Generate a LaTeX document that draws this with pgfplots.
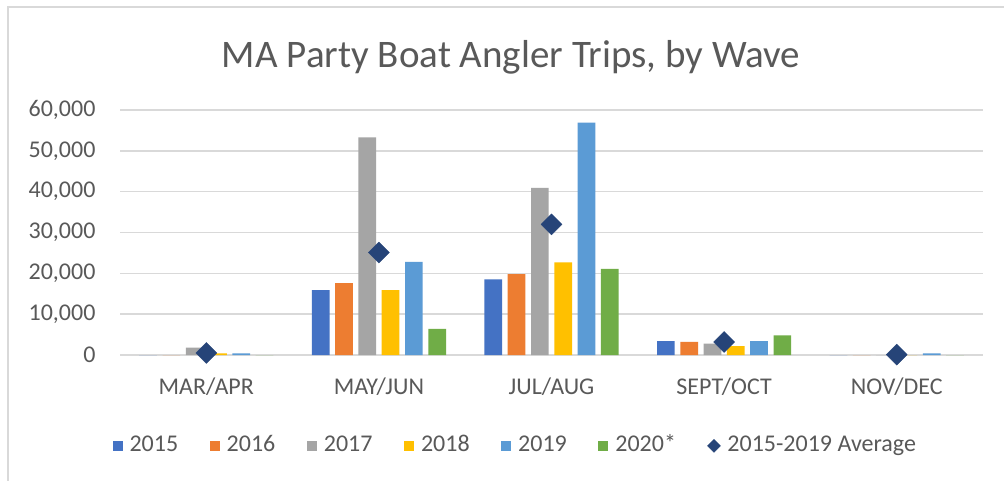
\documentclass[border=0pt]{standalone}
\usepackage{fontspec}
\setmainfont{Carlito}
\usepackage{pgfplots}
\pgfplotsset{compat=1.18}
\definecolor{c15}{HTML}{4472C4}
\definecolor{c16}{HTML}{ED7D31}
\definecolor{c17}{HTML}{A5A5A5}
\definecolor{c18}{HTML}{FFC000}
\definecolor{c19}{HTML}{5B9BD5}
\definecolor{c20}{HTML}{70AD47}
\definecolor{avgc}{HTML}{264478}
\definecolor{txt}{HTML}{595959}
\definecolor{gridc}{HTML}{D9D9D9}
\pgfplotsset{
  sq legend/.style={legend image code/.code={\fill (0pt,-5pt) rectangle (10pt,5pt);}},
  bar/.style={ybar, bar width=17.7pt, bar shift=#1, draw=none, sq legend},
}
\begin{document}
\begin{tikzpicture}
\useasboundingbox (0,0) rectangle (1004pt,480pt);
\fill[white] (0,0) rectangle (1004pt,480pt);
\draw[line width=2pt, gridc] (8pt,-20pt) -- (8pt,473pt) -- (1030pt,473pt);
\node[font=\fontsize{39}{45}\selectfont, text=txt] at (511pt,423pt) {MA Party Boat Angler Trips, by Wave};
\begin{axis}[at={(120pt,125pt)}, anchor=south west, scale only axis,
  width=863pt, height=245pt, xmin=-0.5, xmax=4.5, ymin=0, ymax=60000,
  xtick={0,1,2,3,4}, xticklabels={MAR/APR,MAY/JUN,JUL/AUG,SEPT/OCT,NOV/DEC},
  ytick={0,10000,20000,30000,40000,50000,60000},
  scaled y ticks=false,
  /pgf/number format/.cd, 1000 sep={,}, assume math mode=true, /pgfplots/.cd,
  ymajorgrids, grid style={gridc, line width=1.5pt},
  axis line style={draw=none}, major tick length=0pt,
  tick label style={font=\fontsize{24}{28}\selectfont, text=txt},
  xticklabel style={yshift=-19pt},
  yticklabel style={xshift=-21pt},
  clip=false,
  legend columns=7,
  legend style={at={(0.458,-0.371)}, anchor=center, draw=none, fill=none,
    font=\fontsize{24}{28}\selectfont, text=txt,
    nodes={text height=17pt, text depth=5pt, inner ysep=0pt},
    cells={anchor=west},
    /tikz/every odd column/.append style={column sep=5pt},
    /tikz/every even column/.append style={column sep=29.5pt}},
]
\addplot[bar=-58.25pt, fill=c15] coordinates {(0,0) (1,15900) (2,18500) (3,3400) (4,0)};
\addlegendentry{2015}
\addplot[bar=-34.95pt, fill=c16] coordinates {(0,0) (1,17600) (2,19800) (3,3200) (4,0)};
\addlegendentry{2016}
\addplot[bar=-11.65pt, fill=c17] coordinates {(0,1800) (1,53300) (2,40900) (3,2800) (4,0)};
\addlegendentry{2017}
\addplot[bar=11.65pt, fill=c18] coordinates {(0,400) (1,15900) (2,22700) (3,2200) (4,0)};
\addlegendentry{2018}
\addplot[bar=34.95pt, fill=c19] coordinates {(0,400) (1,22800) (2,56900) (3,3400) (4,400)};
\addlegendentry{2019}
\addplot[bar=58.25pt, fill=c20] coordinates {(0,0) (1,6400) (2,21100) (3,4800) (4,0)};
\addlegendentry{2020*}
\addplot[only marks, mark=square*, mark size=7.4pt, mark options={rotate=45, fill=avgc, draw=avgc},
  legend image code/.code={\path plot[mark=square*, mark size=4.6pt, mark options={rotate=45, fill=avgc, draw=avgc}] coordinates {(5pt,0pt)};}]
  coordinates {(0,500) (1,25100) (2,32000) (3,3200) (4,100)};
\addlegendentry{2015-2019 Average}
\end{axis}
\end{tikzpicture}
\end{document}
